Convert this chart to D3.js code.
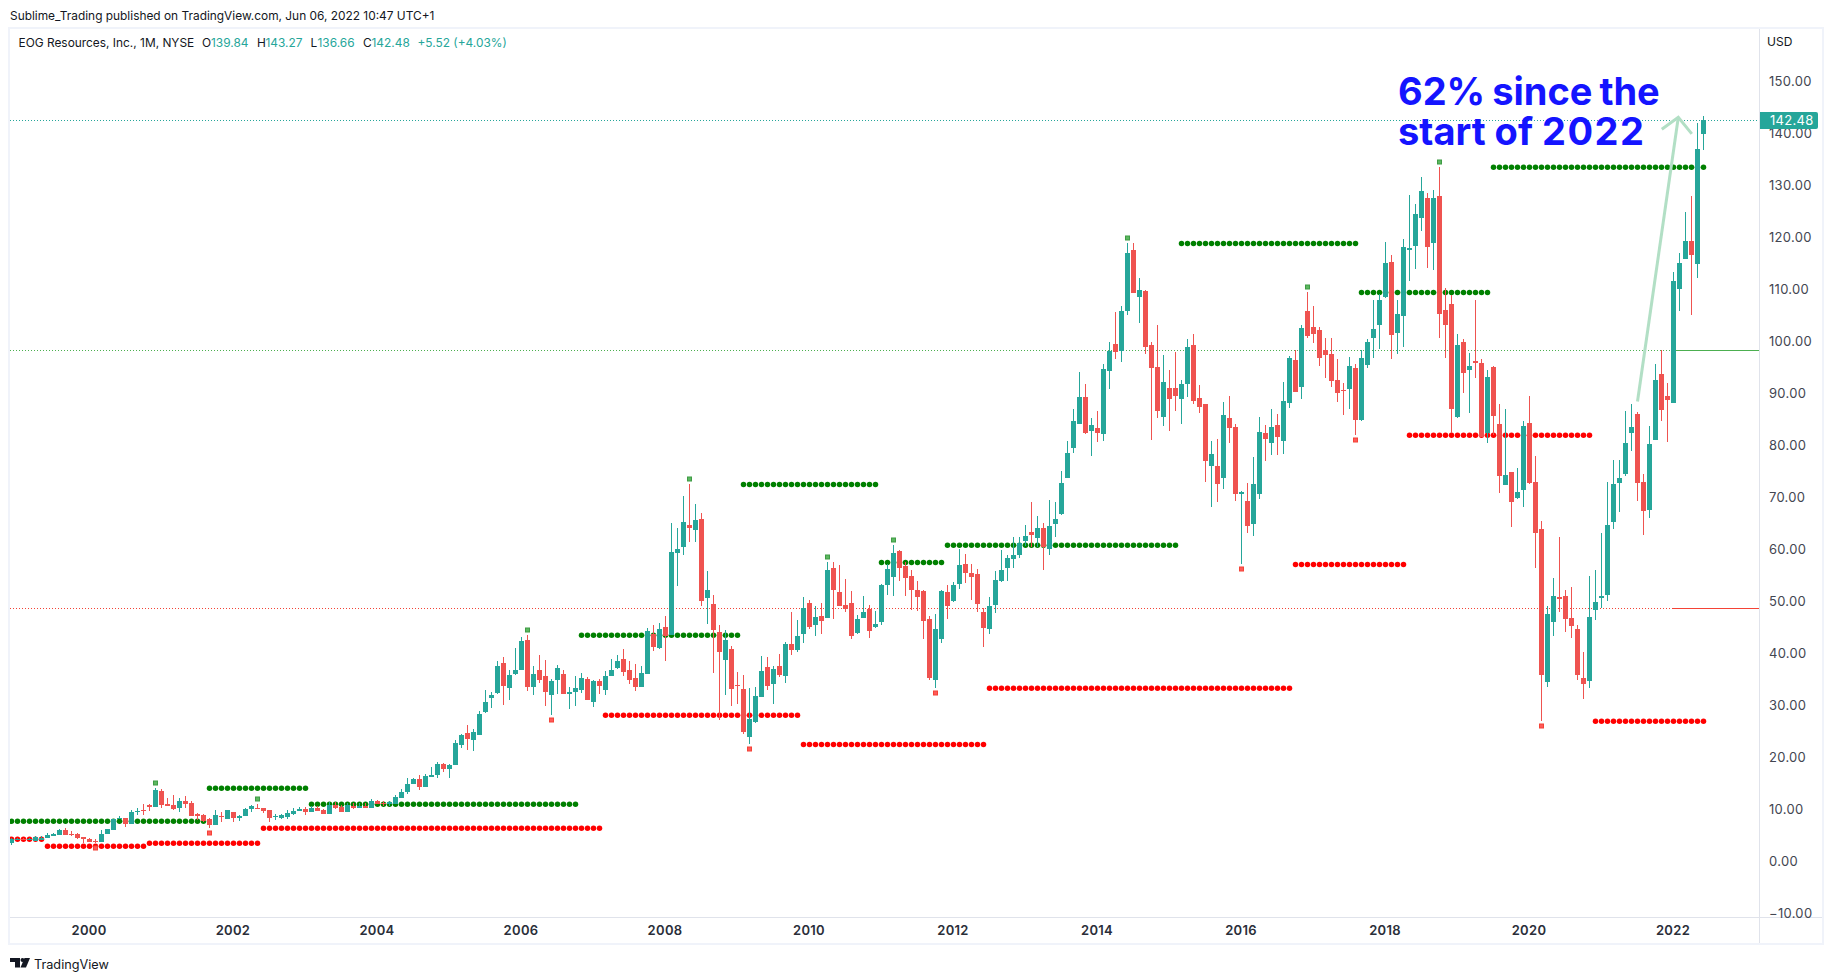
<!doctype html>
<html>
<head>
<meta charset="utf-8" />
<script src="https://d3js.org/d3.v7.min.js"></script>
<style>
  body { margin: 0; background: #fff; }
  text { font-family: Inter, "Noto Sans", sans-serif; }
</style>
</head>
<body>
<div id="chart"></div>
<script>
// monthly candles, month index 0 = Jan 2000, first one is Dec 1998
var firstMonth = -13;
var opens = [
  3.47,4.04,4.23,4.17,3.72,4.04,4.36,4.75,4.94,5.90,
  5.13,5.13,4.49,4.17,3.79,3.59,5.13,5.90,7.95,8.15,
  7.06,9.36,9.75,10.71,10.32,13.34,10.90,10.71,10.13,11.48,
  11.09,8.98,8.79,8.02,6.86,8.53,8.02,9.36,8.21,8.59,
  9.94,10.13,10.15,9.76,8.42,8.22,8.42,8.99,9.57,9.95,
  9.38,10.15,9.76,8.99,10.72,10.34,9.38,10.53,10.15,10.53,
  10.15,11.49,11.11,10.92,10.92,12.07,13.22,14.76,15.72,14.18,
  16.11,16.49,18.61,17.65,18.42,22.26,24.57,23.22,24.18,28.61,
  31.30,32.26,38.03,33.22,35.92,36.68,42.45,33.42,36.68,35.53,
  31.88,34.76,35.92,32.07,32.45,32.84,34.95,30.53,34.57,32.82,
  35.51,37.05,38.78,36.67,35.13,33.40,35.90,43.59,40.90,44.94,
  43.40,59.17,60.32,64.55,63.59,65.71,50.52,49.36,43.98,38.59,
  40.71,33.78,33.02,23.78,26.67,31.48,37.25,33.98,37.44,35.52,
  41.67,40.52,43.59,49.55,45.32,47.05,46.67,56.28,51.67,49.17,
  49.55,43.78,46.67,48.46,44.94,45.90,53.02,54.55,59.55,56.67,
  54.75,52.05,51.86,46.48,34.75,42.63,51.67,49.94,53.21,57.05,
  55.32,55.13,47.82,44.55,49.17,53.78,56.28,58.02,58.78,61.48,
  63.21,62.05,63.98,59.94,64.75,66.67,73.58,79.35,83.97,89.16,
  82.62,83.20,82.05,94.16,99.35,98.01,105.70,117.43,108.39,109.55,
  99.16,94.93,85.32,90.89,90.89,88.78,91.66,99.16,88.97,87.82,
  75.89,75.89,73.58,85.12,83.39,70.51,69.16,64.74,70.51,82.24,
  80.32,83.78,80.70,88.01,96.28,91.08,105.70,102.62,102.05,98.20,
  97.43,92.43,90.51,90.70,94.74,84.74,95.32,100.51,103.01,108.41,
  115.14,101.48,104.75,117.45,118.22,123.60,127.45,118.79,127.83,105.91,
  107.06,85.33,99.75,94.37,96.10,95.71,82.25,94.95,83.98,72.25,
  74.75,69.75,71.29,84.18,72.82,63.78,34.36,45.90,50.71,50.90,
  46.67,44.55,35.13,34.55,48.21,50.52,51.09,65.13,72.63,74.37,
  82.25,85.91,72.83,67.45,80.91,93.60,89.37,88.04,109.96,115.73,
  119.19,114.77,139.84
];
var highs = [
  4.30,4.36,4.43,4.36,4.75,4.68,5.26,5.39,6.09,6.29,
  5.71,5.26,4.49,4.30,4.17,5.90,6.09,8.02,8.59,8.27,
  9.75,10.13,10.90,10.90,13.98,13.72,12.06,12.63,12.06,12.44,
  11.48,9.23,8.98,8.21,9.75,9.36,9.75,9.36,8.79,10.13,
  10.71,10.90,10.15,9.76,8.99,8.99,9.76,10.15,10.34,10.34,
  10.53,10.53,9.95,11.30,11.30,10.72,11.17,11.17,11.04,11.04,
  11.88,11.68,11.43,11.49,12.65,13.80,15.91,15.91,16.49,16.68,
  18.03,18.99,18.80,18.61,23.22,24.38,26.11,25.34,28.80,32.84,
  32.45,38.42,39.18,36.68,40.92,43.03,43.42,37.45,39.57,38.61,
  34.95,37.65,36.68,33.42,35.53,36.11,35.34,34.76,34.95,36.48,
  38.78,39.55,40.71,38.40,37.82,37.44,44.75,45.32,45.71,47.05,
  64.94,63.98,70.13,72.44,68.59,66.86,55.71,51.09,45.32,44.36,
  41.28,36.28,35.71,33.21,33.40,39.36,39.17,37.44,39.75,42.05,
  47.82,46.28,50.71,50.13,48.98,49.55,57.44,57.44,56.86,54.17,
  51.86,47.25,50.90,49.17,48.02,53.21,57.05,60.71,59.75,57.44,
  55.90,53.78,52.05,47.05,47.44,52.05,53.02,53.59,59.94,58.98,
  57.05,56.09,48.59,50.71,55.71,59.75,58.78,62.25,62.25,64.55,
  68.98,66.28,64.94,69.36,68.98,74.94,80.70,86.85,93.97,91.66,
  85.12,86.47,95.51,99.74,105.51,106.66,118.78,118.78,112.05,109.74,
  99.74,103.01,97.24,94.35,97.82,92.43,100.32,101.28,91.47,87.82,
  80.70,81.08,88.20,89.35,83.97,71.08,72.62,77.62,85.32,83.78,
  86.85,85.89,92.05,97.05,98.20,103.01,109.35,106.66,102.62,100.51,
  100.51,96.47,91.85,96.85,95.51,98.20,100.32,107.82,108.97,118.98,
  116.48,107.83,119.56,128.02,126.29,131.48,128.41,128.98,133.41,110.14,
  108.79,101.29,100.33,97.64,107.83,96.48,94.37,95.14,87.83,86.87,
  74.75,75.52,84.56,89.37,77.82,65.32,48.98,54.36,62.25,52.05,
  52.63,45.32,40.13,54.75,55.90,63.02,72.82,77.05,77.05,86.48,
  87.83,86.29,74.37,83.60,95.52,98.21,91.87,113.23,116.88,124.77,
  127.85,141.88,143.27
];
var lows = [
  3.08,3.98,4.04,3.98,3.72,4.04,4.30,4.75,4.94,4.94,
  4.75,4.11,3.40,3.59,3.40,3.59,5.13,5.90,7.95,6.48,
  7.06,8.79,8.79,9.56,10.32,10.13,10.52,9.75,9.36,10.13,
  8.59,7.82,7.50,6.29,6.86,7.44,8.02,7.44,7.63,8.59,
  9.36,9.94,9.18,7.45,7.84,8.03,8.03,8.80,9.57,8.80,
  9.38,9.57,8.99,8.99,9.95,9.38,9.38,9.95,10.15,10.15,
  10.15,10.92,10.53,10.53,10.92,12.07,12.84,14.76,13.61,14.18,
  16.11,15.91,17.07,15.91,18.42,21.68,21.30,21.11,24.18,28.42,
  29.38,32.07,29.95,30.92,35.72,36.68,32.65,31.88,34.18,29.76,
  28.03,32.07,32.07,29.18,29.76,32.26,30.92,29.57,32.07,31.86,
  35.51,36.86,35.51,33.98,32.63,33.40,35.90,40.32,40.71,38.40,
  43.40,52.82,58.78,61.28,61.28,48.98,45.52,36.09,27.05,31.86,
  29.75,30.13,24.36,22.44,26.48,31.48,32.82,30.13,35.32,34.17,
  39.55,40.13,41.86,44.55,43.21,43.59,46.67,46.48,48.98,47.82,
  42.63,43.59,46.67,42.82,44.75,45.32,51.09,50.90,53.78,50.90,
  48.21,48.02,42.63,34.75,33.21,41.86,46.48,49.75,52.25,53.40,
  50.13,47.82,41.09,43.59,47.63,53.59,53.78,56.28,58.21,60.52,
  60.32,60.32,55.90,58.78,62.25,66.48,73.58,78.39,83.97,82.05,
  77.82,80.51,80.70,90.70,96.47,95.89,104.93,109.16,103.39,97.43,
  80.89,85.12,83.58,82.62,86.47,83.97,89.16,87.82,86.08,72.81,
  68.01,68.97,71.47,80.32,69.16,57.05,63.01,62.43,69.55,76.85,
  78.01,78.01,78.20,87.05,90.12,88.78,100.51,99.55,95.12,92.81,
  91.08,88.20,85.70,86.85,81.85,84.55,94.74,96.66,98.39,108.22,
  96.48,97.45,98.79,111.48,113.79,121.10,113.98,113.60,100.52,96.68,
  82.19,85.14,89.95,86.10,92.83,81.48,80.33,81.87,70.71,72.25,
  64.17,69.55,68.02,72.45,56.28,26.86,33.40,43.21,47.82,43.98,
  42.82,34.75,31.09,33.21,46.28,48.59,49.94,63.78,67.05,73.98,
  78.79,69.18,62.63,65.91,80.91,84.56,80.52,88.04,105.73,115.73,
  104.96,112.08,136.66
];
var closes = [
  4.23,4.23,4.17,4.23,4.56,4.43,4.94,5.13,5.90,4.94,
  4.94,4.36,4.17,3.66,3.66,5.13,6.09,8.02,8.15,7.06,
  9.36,9.56,9.62,10.39,13.59,10.71,10.52,9.94,11.48,10.90,
  8.59,8.59,7.63,6.86,8.79,8.40,9.75,8.21,8.59,9.94,
  10.52,9.94,9.57,8.22,8.61,8.80,9.18,9.57,9.95,9.38,
  10.15,9.57,8.99,10.72,10.15,9.38,10.72,10.15,10.53,10.15,
  11.49,10.92,10.98,11.30,12.26,13.22,14.76,15.72,14.18,16.30,
  16.49,18.61,17.65,18.42,22.65,24.18,23.42,24.76,28.22,30.53,
  31.88,37.45,33.61,35.72,36.68,42.26,33.42,35.92,34.76,32.45,
  34.57,37.07,32.07,32.45,33.22,35.15,30.92,34.57,33.61,35.51,
  36.67,38.40,36.28,34.75,33.40,36.09,44.17,41.09,44.55,43.21,
  59.36,59.94,65.13,63.98,65.52,49.94,52.05,44.36,40.13,42.44,
  33.02,33.66,24.75,27.25,31.67,36.48,33.59,36.86,35.71,41.67,
  40.52,43.21,48.59,44.94,46.86,46.09,55.90,52.05,48.98,48.40,
  43.21,46.48,47.82,44.17,45.52,53.02,56.09,59.17,56.28,54.36,
  52.05,50.71,46.09,35.13,44.55,51.86,48.98,53.02,56.86,55.32,
  54.55,49.36,44.75,48.98,53.98,55.90,58.21,58.78,61.09,62.44,
  62.63,63.98,60.32,64.36,65.71,72.63,78.39,84.55,89.16,82.24,
  83.78,82.24,94.55,98.01,97.82,105.70,116.85,109.16,109.74,98.78,
  94.74,86.47,92.05,88.78,89.35,91.66,98.78,88.39,87.24,76.85,
  78.20,72.43,85.70,83.20,70.51,70.89,64.35,72.43,82.43,81.08,
  83.39,81.47,88.39,96.66,90.12,102.43,100.89,101.28,96.66,97.24,
  92.24,89.93,90.32,95.12,84.74,96.66,99.74,102.24,107.82,114.95,
  101.10,105.14,118.02,117.83,124.37,128.79,118.02,127.45,105.14,103.02,
  86.87,99.18,93.79,95.14,95.71,81.48,93.02,85.52,73.98,74.18,
  68.98,70.90,83.60,72.64,63.02,35.71,47.44,50.90,50.32,46.48,
  45.13,35.71,33.98,46.86,49.75,50.90,64.55,72.44,73.59,80.33,
  83.41,72.64,67.25,80.14,92.45,86.68,88.60,111.50,114.96,119.19,
  116.50,136.88,142.48
];

// dotted levels: [price, first month, last month]
var resistanceLevels = [[7.57,-13,19],[13.92,20,36],[10.85,37,81],[43.34,82,108],[72.37,109,131],
  [57.37,132,142],[60.64,143,181],[118.71,182,211],[109.29,212,233],[133.36,234,269]];
var supportLevels = [[4.11,-13,-8],[2.76,-7,9],[3.34,10,28],[6.23,29,85],[27.95,86,118],
  [22.37,119,149],[33.14,150,200],[56.98,201,219],[81.8,220,250],[26.8,251,269]];

// pivot squares: [month, price]
var pivotHighs = [[11,14.88],[28,11.8],[73,44.31],[100,73.34],[123,58.34],[134,61.6],[173,119.67],[203,110.25],[225,134.3]];
var pivotLows = [[1,2.44],[20,5.26],[77,27.0],[110,21.41],[141,32.18],[192,56.02],[211,80.83],[242,25.84]];

var priceTicks = d3.range(-10, 151, 10);
var yearTicks = d3.range(2000, 2023, 2);
var lastPrice = 142.48;
var upperLine = 98.14;
var lowerLine = 48.53;

// arrow in month / price
var arrowShaft = [[258,88.3],[264.8,142.97]];
var arrowHead = [[262.05,140.67],[264.8,142.97],[267.05,139.77]];

var legendParts = [
  {t:"EOG Resources, Inc., 1M, NYSE", x:18.5, up:false},
  {t:"O", x:202, up:false},{t:"139.84", x:211, up:true},
  {t:"H", x:257, up:false},{t:"143.27", x:265.5, up:true},
  {t:"L", x:310.5, up:false},{t:"136.66", x:317.5, up:true},
  {t:"C", x:363, up:false},{t:"142.48", x:371.5, up:true},
  {t:"+5.52 (+4.03%)", x:417.5, up:true}
];

var UP = "#26a69a", DOWN = "#ef5350";
var W = 1833, H = 980;
var plotL = 10, plotR = 1759, plotB = 917;

var svg = d3.select("#chart").append("svg").attr("width", W).attr("height", H).style("display", "block");
svg.append("rect").attr("width", W).attr("height", H).attr("fill", "#fff");

var x = d3.scaleLinear().domain([-13, 269]).range([11.5, 1703.5]);
var y = d3.scaleLinear().domain([-10, 150]).range([912.7, 80.7]);
function py(v) { return Math.round(y(v)); }

var candles = opens.map(function(o, k) {
  return {m: firstMonth + k, o: o, h: highs[k], l: lows[k], c: closes[k]};
});

// frame
svg.append("rect").attr("x", 9).attr("y", 28).attr("width", 1814).attr("height", 916)
  .attr("fill", "none").attr("stroke", "#f0f3fa").attr("stroke-width", 2);
svg.append("line").attr("x1", plotL).attr("x2", 1822).attr("y1", plotB + .5).attr("y2", plotB + .5).attr("stroke", "#e0e3eb");
svg.append("line").attr("x1", plotR + .5).attr("x2", plotR + .5).attr("y1", 29).attr("y2", 943).attr("stroke", "#e0e3eb");

svg.append("defs").append("clipPath").attr("id", "plot").append("rect")
  .attr("x", plotL).attr("y", 29).attr("width", plotR - plotL).attr("height", plotB - 29);
var plot = svg.append("g").attr("clip-path", "url(#plot)");

// horizontal price lines
function dotted(v, x2, col) {
  plot.append("line").attr("x1", plotL).attr("x2", x2).attr("y1", py(v) + .5).attr("y2", py(v) + .5)
    .attr("stroke", col).attr("stroke-dasharray", "1 2");
}
dotted(lastPrice, plotR, UP);
dotted(upperLine, 1676, "#4caf50");
dotted(lowerLine, 1672, "#f44336");
plot.append("line").attr("x1", 1676).attr("x2", plotR).attr("y1", py(upperLine) + .5).attr("y2", py(upperLine) + .5).attr("stroke", "#4caf50");
plot.append("line").attr("x1", 1672).attr("x2", plotR).attr("y1", py(lowerLine) + .5).attr("y2", py(lowerLine) + .5).attr("stroke", "#f44336");

// dot rows
function dotRows(levels, col) {
  levels.forEach(function(l) {
    plot.append("g").selectAll("circle").data(d3.range(l[1], l[2] + 1)).enter().append("circle")
      .attr("cx", d => x(d)).attr("cy", y(l[0])).attr("r", 2.75).attr("fill", col);
  });
}
dotRows(resistanceLevels, "#008000");
dotRows(supportLevels, "#ff0000");

// candles
var cg = plot.append("g").selectAll("g").data(candles).enter().append("g")
  .attr("fill", d => d.c >= d.o ? UP : DOWN);
cg.append("rect").attr("x", d => x(d.m) - .5).attr("width", 1)
  .attr("y", d => py(d.h)).attr("height", d => Math.max(1, py(d.l) - py(d.h)));
cg.append("rect").attr("x", d => x(d.m) - 2.5).attr("width", 5)
  .attr("y", d => py(Math.max(d.o, d.c)))
  .attr("height", d => Math.max(1, py(Math.min(d.o, d.c)) - py(Math.max(d.o, d.c))));

// pivot squares
function squares(list, fill, stroke) {
  plot.append("g").selectAll("rect").data(list).enter().append("rect")
    .attr("x", d => x(d[0]) - 2).attr("y", d => py(d[1]) - 2).attr("width", 4).attr("height", 4)
    .attr("fill", fill).attr("stroke", stroke).attr("stroke-width", 1);
}
squares(pivotHighs, "#5cb860", "#3f9b45");
squares(pivotLows, "#ff5a5a", "#f44336");

// arrow
var arrowLine = d3.line().x(d => x(d[0])).y(d => y(d[1]));
[arrowShaft, arrowHead].forEach(function(p) {
  plot.append("path").attr("d", arrowLine(p)).attr("fill", "none").attr("stroke", "#b2dfc5").attr("stroke-width", 3);
});

// note, two lines of one text
var note = svg.append("text").attr("fill", "#1414ff").attr("font-size", 38).attr("font-weight", 700);
note.append("tspan").attr("x", 1398).attr("y", 104.5).attr("word-spacing", -2).text("62% since the");
note.append("tspan").attr("x", 1398).attr("y", 144.5).text("start of ");
note.append("tspan").attr("letter-spacing", 1.5).text("2022");

// axes
var yAxis = d3.axisRight(y).tickValues(priceTicks).tickSize(0).tickPadding(10).tickFormat(d3.format(".2f"));
var yg = svg.append("g").attr("transform", "translate(" + plotR + ",1)").call(yAxis);
yg.select(".domain").remove();
yg.selectAll("text").attr("font-size", 13).attr("font-family", "Inter").attr("fill", "#434651").attr("letter-spacing", ".3");

var xAxis = d3.axisBottom(x).tickValues(yearTicks.map(d => (d - 2000) * 12)).tickSize(0).tickPadding(9)
  .tickFormat(d => 2000 + d / 12);
var xg = svg.append("g").attr("transform", "translate(-1," + plotB + ")").call(xAxis);
xg.select(".domain").remove();
xg.selectAll("text").attr("font-size", 13).attr("font-weight", 600).attr("font-family", "Inter").attr("fill", "#2a2e39").attr("letter-spacing", ".3");

// last price tag
svg.append("path").attr("d", "M1760 " + (py(lastPrice) - 8) + "h56a2 2 0 0 1 2 2v13a2 2 0 0 1 -2 2h-56z").attr("fill", UP);
svg.append("text").attr("x", 1770).attr("y", py(lastPrice) + 5).attr("font-size", 13).attr("fill", "#fff").attr("letter-spacing", ".3").text("142.48");

svg.append("text").attr("x", 1767).attr("y", 46).attr("font-size", 12).attr("fill", "#131722").text("USD");

// header and legend
svg.append("text").attr("x", 10).attr("y", 20).attr("font-size", 11.9).attr("fill", "#131722")
  .text("Sublime_Trading published on TradingView.com, Jun 06, 2022 10:47 UTC+1");
svg.append("g").selectAll("text").data(legendParts).enter().append("text")
  .attr("x", d => d.x).attr("y", 47).attr("font-size", 11.9).attr("fill", d => d.up ? UP : "#131722").text(d => d.t);

// logo
var logo = svg.append("g").attr("fill", "#131722");
logo.append("path").attr("d", "M10 958h10v9.5h-5v-5.5h-5z");
logo.append("circle").attr("cx", 22.5).attr("cy", 960).attr("r", 2);
logo.append("path").attr("d", "M24.5 958h5.5l-4 9.5h-5.5z");
svg.append("text").attr("x", 34).attr("y", 968.5).attr("font-size", 12.7).attr("fill", "#131722").text("TradingView");
</script>
</body>
</html>
